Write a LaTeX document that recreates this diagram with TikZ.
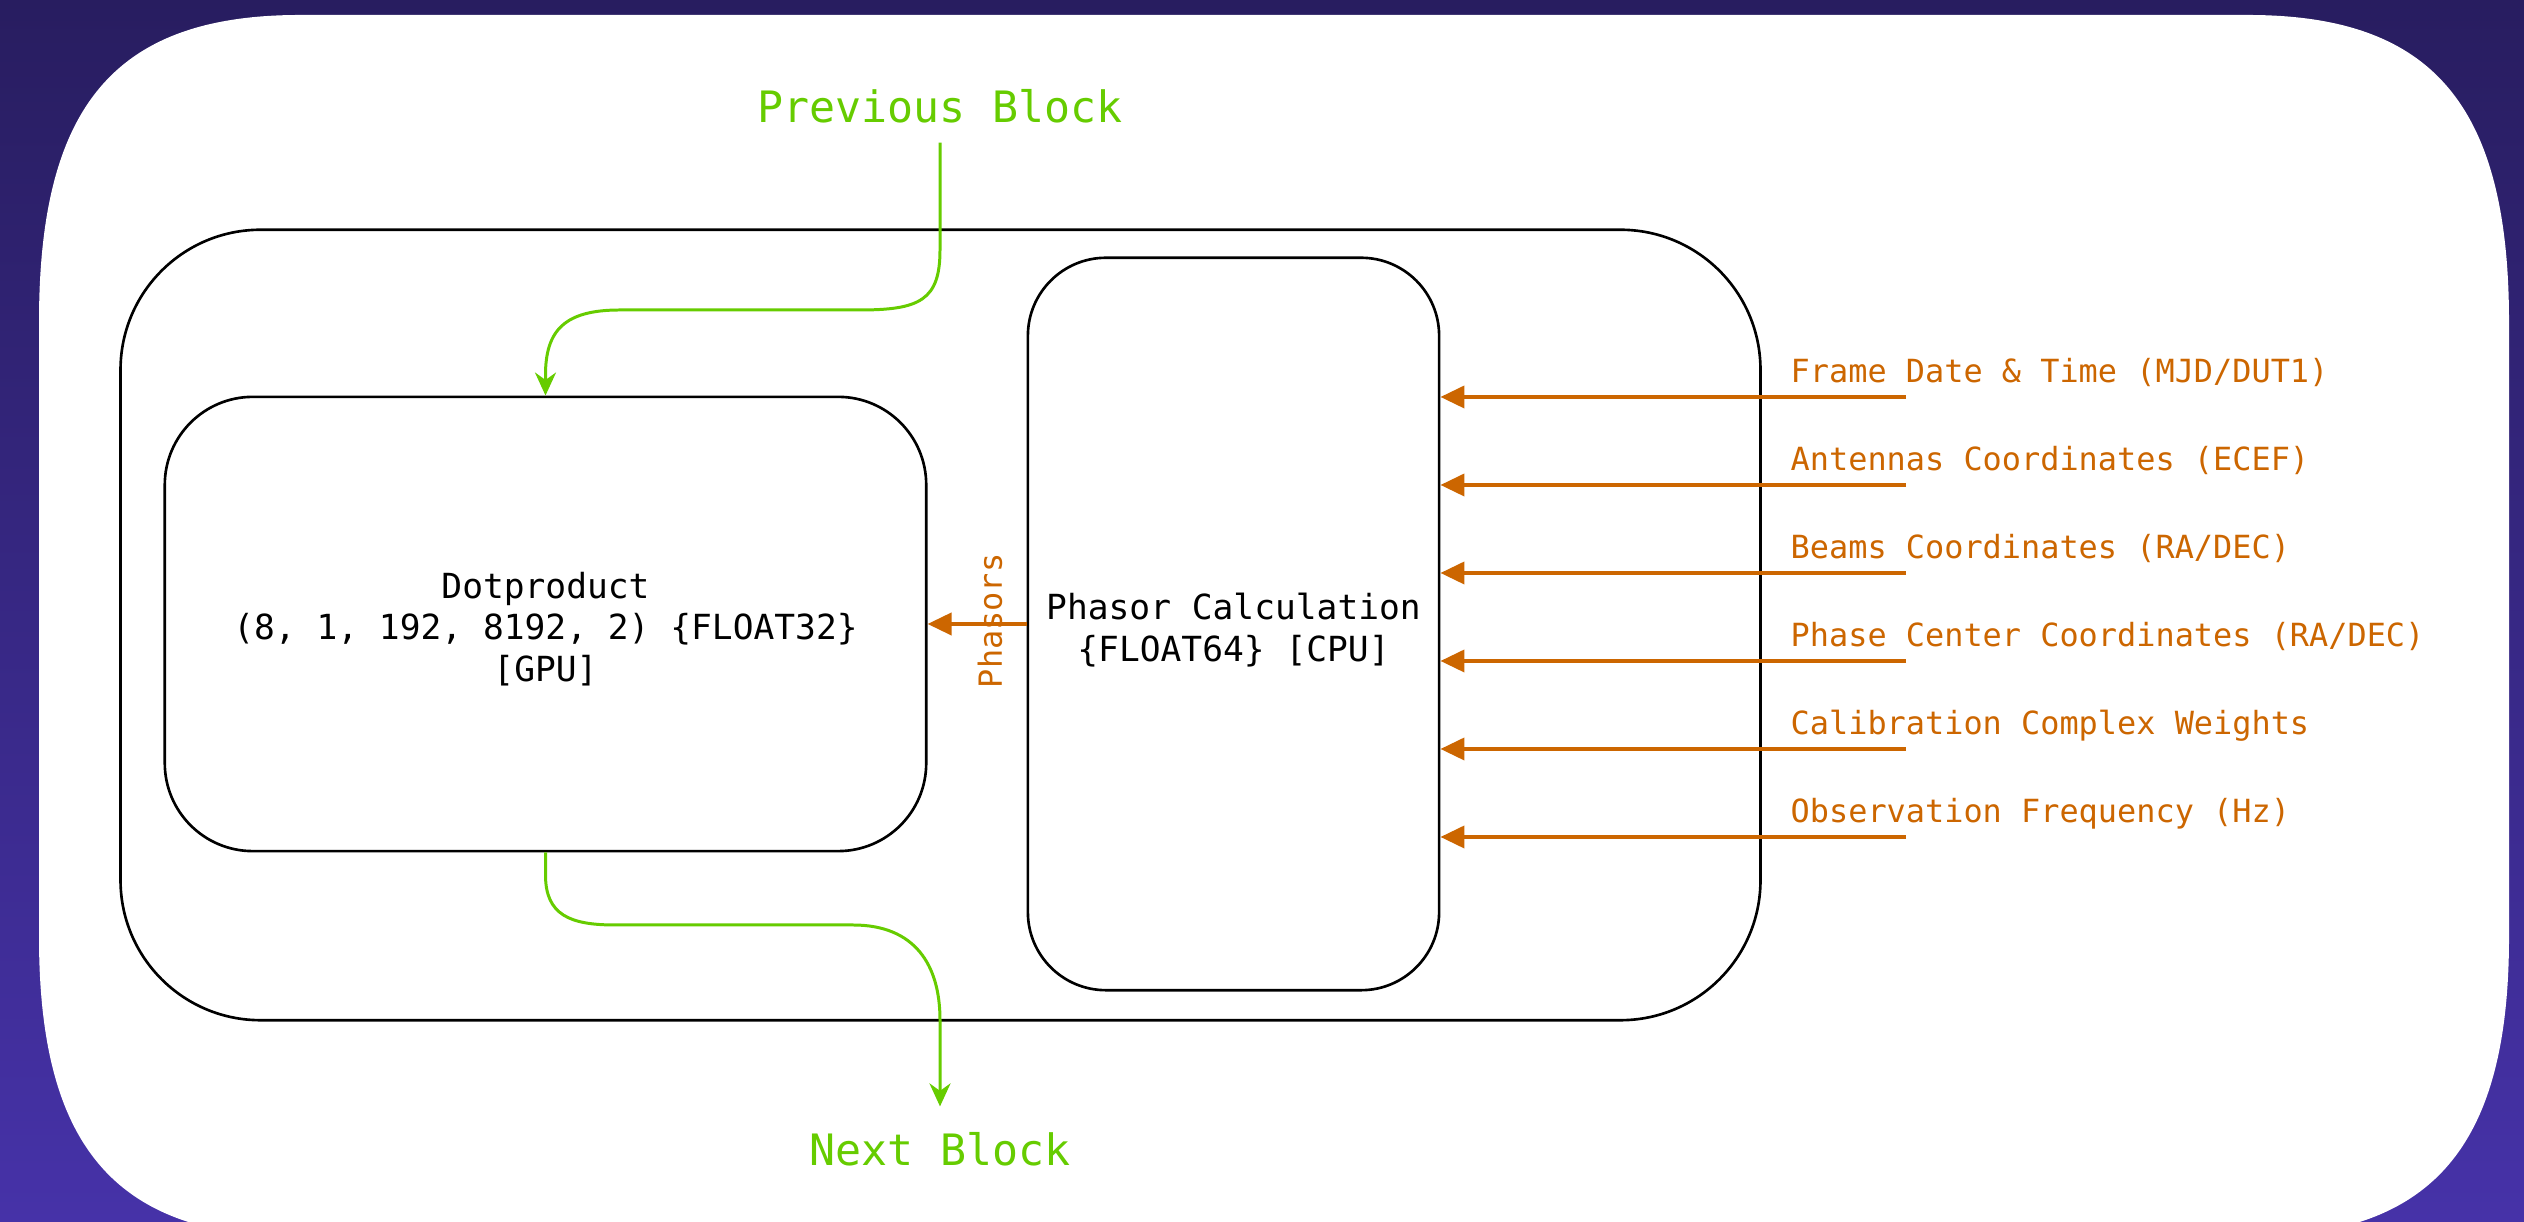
\documentclass[tikz,border=0pt]{standalone}
\usepackage{fontspec}
\setmonofont{DejaVu Sans Mono}
\usetikzlibrary{arrows.meta}
\definecolor{cardorange}{RGB}{204,102,0}
\definecolor{cardgreen}{RGB}{102,204,0}
\definecolor{bgtop}{RGB}{40,29,96}
\definecolor{bgbot}{RGB}{70,50,168}
\begin{document}
\begin{tikzpicture}[x=0.01cm,y=0.01cm,
  blk/.style={draw=black, line width=0.75pt, inner sep=0pt},
  boxtext/.style={font=\ttfamily\fontsize{9.83pt}{11.8pt}\selectfont, align=center, inner sep=0pt},
  garrow/.style={draw=cardgreen, line width=0.85pt, -{Stealth[length=0.23cm,width=0.21cm]}},
  oarrow/.style={draw=cardorange, line width=1.1pt, -{Triangle[length=0.24cm,width=0.22cm]}},
  olabel/.style={text=cardorange, font=\ttfamily\fontsize{9.07pt}{11pt}\selectfont, inner sep=0pt, anchor=base west},
  glabel/.style={text=cardgreen, font=\ttfamily\fontsize{12.3pt}{14pt}\selectfont, inner sep=0pt}]
\useasboundingbox (0,0) rectangle (2524,1222);
\begin{scope}
\clip (0,0) rectangle (2524,1222);
\shade[top color=bgtop, bottom color=bgbot] (0,0) rectangle (2524,1222);
\fill[white] (300,1207) -- (2248,1207)
  .. controls (2432.5,1207) and (2509,1117) .. (2509,900)
  -- (2509,285)
  .. controls (2509,75) and (2432.5,-15) .. (2248,-15)
  -- (300,-15)
  .. controls (115.5,-15) and (39,75) .. (39,285)
  -- (39,900)
  .. controls (39,1117) and (115.5,1207) .. (300,1207) -- cycle;
\end{scope}

% boxes
\node[blk, rounded corners=1.4cm, minimum width=16.39cm, minimum height=7.9cm] (outer) at (940.5,597) {};
\node[blk, rounded corners=0.88cm, minimum width=7.61cm, minimum height=4.54cm] (dot) at (545.5,598) {};
\node[blk, rounded corners=0.78cm, minimum width=4.11cm, minimum height=7.32cm] (phasor) at (1233.5,598) {};
\node[boxtext] (dottext) at ([yshift=-0.05cm]dot.center)
  {Dotproduct\\(8, 1, 192, 8192, 2) \{FLOAT32\}\\{[GPU]}};
\node[boxtext] (phasortext) at ([yshift=-0.06cm]phasor.center)
  {Phasor Calculation\\\{FLOAT64\} [CPU]};

% green labels and flow
\node[glabel] (prev) at (940,1116) {Previous Block};
\node[glabel] (next) at (940,73) {Next Block};
\draw[garrow, shorten <=0.19cm] (prev.south) -- (940,972)
  .. controls (940,922) and (920,912) .. (860,912) -- (620,912)
  .. controls (565,912) and (545.5,892) .. (545.5,847) -- (dot.north);
\draw[garrow, shorten >=0.25cm] (dot.south) -- (545.5,347)
  .. controls (545.5,307) and (570,297) .. (615,297) -- (853,297)
  .. controls (915,297) and (940,257) .. (940,202) -- (next.north);

% phasors
\draw[oarrow] (phasor.west) -- (dot.east);
\node[text=cardorange, font=\ttfamily\fontsize{9.07pt}{11pt}\selectfont, rotate=90, inner sep=0pt] (phlabel) at (990,601) {Phasors};

% inputs
\coordinate (in1) at (1906,825);
\coordinate (in2) at (1906,737);
\coordinate (in3) at (1906,649);
\coordinate (in4) at (1906,561);
\coordinate (in5) at (1906,473);
\coordinate (in6) at (1906,385);
\foreach \i in {1,...,6} {\draw[oarrow] (in\i) -- (in\i -| phasor.east);}
\node[olabel] (l1) at (1790,839) {Frame Date \& Time (MJD/DUT1)};
\node[olabel] (l2) at (1790,751) {Antennas Coordinates (ECEF)};
\node[olabel] (l3) at (1790,663) {Beams Coordinates (RA/DEC)};
\node[olabel] (l4) at (1790,575) {Phase Center Coordinates (RA/DEC)};
\node[olabel] (l5) at (1790,487) {Calibration Complex Weights};
\node[olabel] (l6) at (1790,399) {Observation Frequency (Hz)};
\end{tikzpicture}
\end{document}
